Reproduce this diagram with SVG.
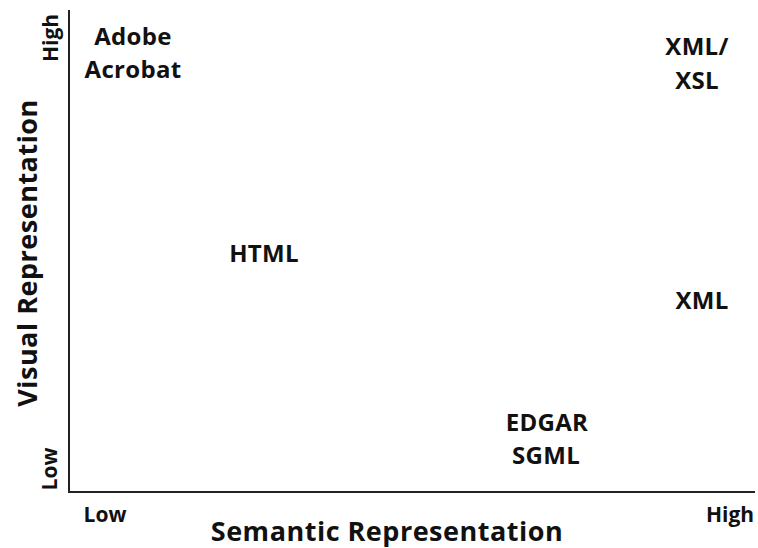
<svg xmlns="http://www.w3.org/2000/svg" width="758" height="548" viewBox="0 0 758 548">
<style>
text{font-family:"Open Sans","Noto Sans","DejaVu Sans",sans-serif;font-weight:bold;fill:#111;text-anchor:middle}
.pt{font-size:24px;letter-spacing:0.3px}
.tick{font-size:21px}
.ax{font-size:27px;letter-spacing:0.5px}
</style>
<rect width="758" height="548" fill="#fff"/>
<g id="axes" stroke="#222" stroke-width="2" fill="none">
<line x1="69" y1="10" x2="69" y2="492"/>
<line x1="68" y1="492" x2="755" y2="492"/>
</g>
<g id="labels">
<text class="tick" x="105" y="522">Low</text>
<text class="tick" x="730" y="522">High</text>
<text class="ax" x="387" y="541">Semantic Representation</text>
<text class="ax" transform="translate(37,253) rotate(-90)">Visual Representation</text>
<text class="tick" transform="translate(58,38) rotate(-90)">High</text>
<text class="tick" transform="translate(57,469) rotate(-90)">Low</text>
</g>
<g id="acrobat"><text class="pt" x="133" y="45">Adobe</text><text class="pt" x="133" y="78">Acrobat</text></g>
<g id="xmlxsl"><text class="pt" x="697" y="55">XML/</text><text class="pt" x="697" y="89">XSL</text></g>
<g id="html"><text class="pt" x="264" y="262">HTML</text></g>
<g id="xml"><text class="pt" x="702" y="309">XML</text></g>
<g id="edgar"><text class="pt" x="547" y="431">EDGAR</text><text class="pt" x="546" y="464">SGML</text></g>
</svg>
